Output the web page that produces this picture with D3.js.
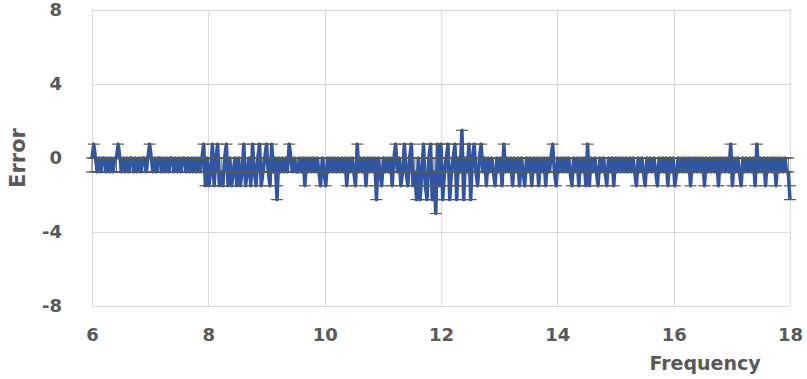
<!DOCTYPE html>
<html><head><meta charset="utf-8">
<script src="https://cdn.jsdelivr.net/npm/d3@7"></script>
<style>body{margin:0;background:#fff}</style>
</head><body><svg id="c" width="807" height="379"></svg>
<script>
const xTicks = [6, 8, 10, 12, 14, 16, 18];
const yTicks = [-8, -4, 0, 4, 8];
const xLabel = "Frequency";
const yLabel = "Error";
const freqStart = 6, freqStep = 0.03;
const errorBarSize = 0.75;
const errorValues = [
0,0.75,0,-0.75,0,-0.75,0,0,-0.75,0,-0.75,0,-0.75,0,0,0.75,0,-0.75,0,-0.75,
0,-0.75,0,0,-0.75,0,-0.75,0,-0.75,0,0,-0.75,0,0.75,0,-0.75,0,-0.75,0,0,
-0.75,0,-0.75,0,-0.75,0,0,-0.75,0,-0.75,0,-0.75,0,0,-0.75,0,-0.75,0,-0.75,0,
-0.75,0,-0.75,0,0.75,-1.5,0,-1.5,-0.75,0.75,-1.5,0,0.75,-1.5,-0.75,-1.5,0,0.75,-1.5,0,
-1.5,-0.75,0,-1.5,0,-1.5,-0.75,0.75,-1.5,-0.75,0,-1.5,0.75,-0.75,-1.5,0,0.75,-1.5,-0.75,0,
0.75,-0.75,-1.5,0.75,-0.75,0,-2.25,0,-0.75,0,-0.75,0,-0.75,0.75,0,-0.75,0,-0.75,-0.75,0,
-0.75,0,-1.5,0,-0.75,0,-0.75,0,-0.75,0,-0.75,-1.5,0,-0.75,-1.5,0,-0.75,0,-0.75,0,
-0.75,0,-0.75,0,-0.75,0,-1.5,0,-0.75,0,-0.75,-1.5,0.75,-0.75,0,-0.75,0,-1.5,0,-0.75,
0,-0.75,0,-2.25,0,-0.75,-1.5,0,-0.75,0,-0.75,0,-1.5,0,0.75,-0.75,0,-1.5,-0.75,0.75,
-0.75,-1.5,0,0.75,-1.5,-0.75,-2.25,0,-2.25,-0.75,0.75,-1.5,-2.25,0,0.75,-2.25,-0.75,-3,0.75,-1.5,
0.75,-2.25,-0.75,0,0.75,-2.25,-0.75,0,0.75,-2.25,0,-0.75,1.5,-2.25,0,-0.75,0.75,-2.25,0,0.75,
-0.75,-1.5,0,0.75,-0.75,0,-1.5,0,-0.75,0,-0.75,-1.5,0,-0.75,0,-1.5,0.75,-0.75,0,-0.75,
0,-1.5,0,-0.75,0,-1.5,0,-0.75,-1.5,0,-0.75,0,-1.5,0,-0.75,0,-1.5,0,-0.75,0,
-1.5,0,-0.75,0,0.75,-0.75,-1.5,0,-0.75,0,-0.75,0,-0.75,0,-0.75,-1.5,0,-0.75,0,-1.5,
0,-0.75,0,-1.5,0.75,-1.5,0,-0.75,0,-0.75,-1.5,0,-0.75,0,-0.75,-1.5,0,-0.75,0,-1.5,
0,-0.75,0,-0.75,0,-0.75,0,-0.75,0,-0.75,0,-0.75,-1.5,0,-0.75,0,-0.75,-1.5,0,-0.75,
0,-0.75,0,-0.75,-1.5,0,-0.75,0,-0.75,0,-1.5,0,-0.75,0,-1.5,-0.75,0,-0.75,0,-0.75,
0,-0.75,0,-1.5,0,-0.75,0,-0.75,0,-0.75,0,-1.5,0,-0.75,0,-0.75,0,-0.75,0,-1.5,
0,-0.75,0,-0.75,0,-0.75,0.75,-1.5,0,-0.75,0,-0.75,-1.5,0,-0.75,0,-0.75,0,-0.75,0,
-1.5,0.75,-0.75,0,-0.75,0,-1.5,0,-0.75,0,-0.75,0,-1.5,0,-0.75,0,-0.75,0,-0.75,-0.75,
-2.25
];

const W = 807, H = 379;
const m = {left: 92, right: 17, top: 10, bottom: 73};
const svg = d3.select("#c");
const x = d3.scaleLinear().domain([6, 18]).range([m.left, W - m.right]);
const y = d3.scaleLinear().domain([-8, 8]).range([H - m.bottom, m.top]);
const data = errorValues.map((v, i) => ({f: freqStart + i * freqStep, v}));
const textColor = "#595959";
const font = "'DejaVu Sans', sans-serif";

svg.append("g").selectAll("line").data(xTicks).join("line")
  .attr("x1", d => Math.round(x(d)) + 0.5).attr("x2", d => Math.round(x(d)) + 0.5)
  .attr("y1", y(8)).attr("y2", y(-8)).attr("stroke", "#d9d9d9").attr("stroke-width", 1);
svg.append("g").selectAll("line").data(yTicks).join("line")
  .attr("y1", d => Math.round(y(d)) + 0.5).attr("y2", d => Math.round(y(d)) + 0.5)
  .attr("x1", x(6)).attr("x2", x(18)).attr("stroke", "#d9d9d9").attr("stroke-width", 1);

const fmt = d => String(d);
const xAxis = svg.append("g").attr("transform", `translate(0,${y(-8)})`)
  .call(d3.axisBottom(x).tickValues(xTicks).tickFormat(fmt).tickSize(0).tickPadding(22));
const yAxis = svg.append("g").attr("transform", `translate(${x(6)},0)`)
  .call(d3.axisLeft(y).tickValues(yTicks).tickFormat(fmt).tickSize(0).tickPadding(30));
[xAxis, yAxis].forEach(g => {
  g.select(".domain").remove();
  g.selectAll("text").attr("fill", textColor).style("font-family", font)
    .style("font-weight", 700).style("font-size", "18px");
});

const bar = d => d.v >= 0 ? [d.v - errorBarSize, d.v] : [d.v, d.v + errorBarSize];
const capW = 6;

svg.append("g").selectAll("line").data(data).join("line")
  .attr("x1", d => x(d.f)).attr("x2", d => x(d.f))
  .attr("y1", d => y(bar(d)[0])).attr("y2", d => y(bar(d)[1]))
  .attr("stroke", "#595959").attr("stroke-width", 1);

svg.append("path").datum(data)
  .attr("fill", "none").attr("stroke", "#2f55a3").attr("stroke-width", 3.5)
  .attr("stroke-linejoin", "round")
  .attr("d", d3.line().x(d => x(d.f)).y(d => y(d.v)));

const caps = [];
data.forEach(d => { const b = bar(d); caps.push({f: d.f, e: b[0]}, {f: d.f, e: b[1]}); });
svg.append("g").selectAll("line").data(caps).join("line")
  .attr("x1", d => x(d.f) - capW).attr("x2", d => x(d.f) + capW)
  .attr("y1", d => y(d.e)).attr("y2", d => y(d.e))
  .attr("stroke", "#595959").attr("stroke-width", 1.2);

svg.append("text").attr("x", 705).attr("y", 370).attr("text-anchor", "middle")
  .attr("fill", textColor).style("font-family", font).style("font-weight", 700)
  .style("font-size", "19px").text(xLabel);
svg.append("text").attr("transform", `translate(25,${y(0)}) rotate(-90)`).attr("text-anchor", "middle")
  .attr("fill", textColor).style("font-family", font).style("font-weight", 700)
  .style("font-size", "21px").text(yLabel);
</script></body></html>
